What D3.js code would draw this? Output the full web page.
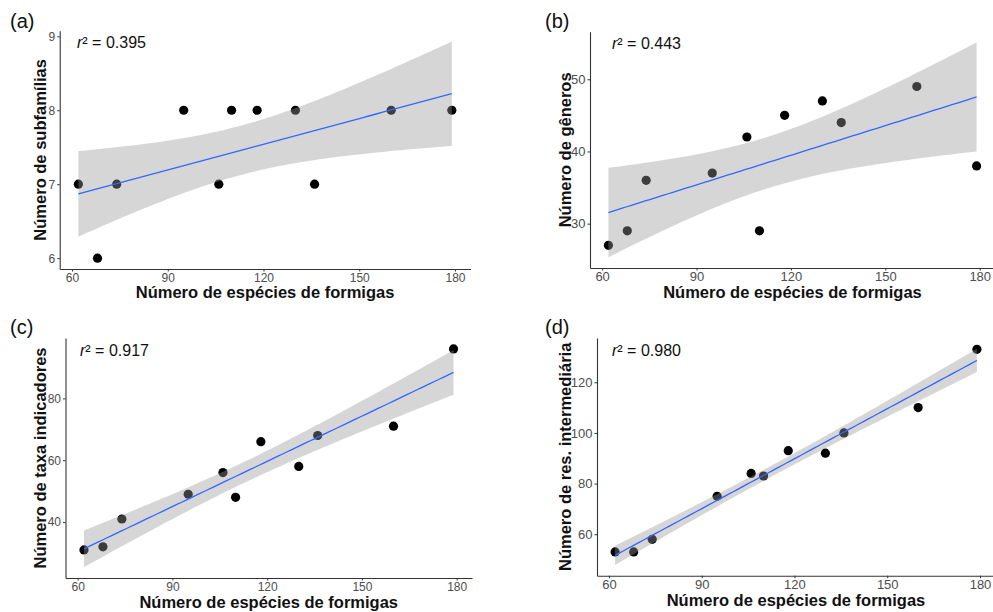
<!DOCTYPE html>
<html><head><meta charset="utf-8">
<script src="https://cdn.jsdelivr.net/npm/d3@7"></script>
<style>html,body{margin:0;padding:0;background:#fff;}svg{display:block;}</style>
</head><body>
<svg id="chart" width="993" height="612"></svg>
<script>
// ---- data ----
const antSpecies = [62, 68, 74, 95, 106, 110, 118, 130, 136, 160, 179];
const subfamilias = [7, 6, 7, 8, 7, 8, 8, 8, 7, 8, 8];
const generos = [27, 29, 36, 37, 42, 29, 45, 47, 44, 49, 38];
const taxaIndicadores = [31, 32, 41, 49, 56, 48, 66, 58, 68, 71, 96];
const resIntermediaria = [53, 53, 58, 75, 84, 83, 93, 92, 100, 110, 133];
const xTicks = [60, 90, 120, 150, 180];
const panelLabels = ["(a)", "(b)", "(c)", "(d)"];
const yTitles = ["Número de subfamílias", "Número de gêneros", "Número de taxa indicadores", "Número de res. intermediária"];
const r2Labels = ["0.395", "0.443", "0.917", "0.980"];
const yTicksList = [[6, 7, 8, 9], [30, 40, 50], [40, 60, 80], [60, 80, 100, 120]];
const xTitle = "Número de espécies de formigas";

// ---- layout ----
const panels = [
  {y: subfamilias, left: 59.7, right: 470.5, top: 30.7, bottom: 269, tickFs: 12, labX: 10, labY: 28, ytX: 46, xtB: 298, r2x: 77, r2y: 48},
  {y: generos, left: 590, right: 995, top: 31.7, bottom: 268, tickFs: 13, labX: 545, labY: 28, ytX: 571, xtB: 298, r2x: 612, r2y: 49},
  {y: taxaIndicadores, left: 65.5, right: 472, top: 338, bottom: 578, tickFs: 12, labX: 10, labY: 334, ytX: 46, xtB: 608, r2x: 80, r2y: 356},
  {y: resIntermediaria, left: 597, right: 995, top: 338, bottom: 575.7, tickFs: 13, labX: 545, labY: 334, ytX: 571, xtB: 606, r2x: 612, r2y: 356}
];

const svg = d3.select("#chart");
const font = "'Liberation Sans', Arial, sans-serif";
const crit = 1.96; // 95% band

function fit(xs, ys) {
  const n = xs.length;
  const mx = d3.mean(xs), my = d3.mean(ys);
  let sxx = 0, sxy = 0;
  xs.forEach((x, i) => { sxx += (x - mx) ** 2; sxy += (x - mx) * (ys[i] - my); });
  const b = sxy / sxx, a = my - b * mx;
  let sse = 0;
  xs.forEach((x, i) => { sse += (ys[i] - a - b * x) ** 2; });
  const s = Math.sqrt(sse / (n - 2));
  const x0 = d3.min(xs), x1 = d3.max(xs);
  return d3.range(0, 81).map(k => {
    const x = x0 + (x1 - x0) * k / 80;
    const yh = a + b * x;
    const se = s * Math.sqrt(1 / n + (x - mx) ** 2 / sxx);
    return {x, y: yh, lo: yh - crit * se, hi: yh + crit * se};
  });
}

panels.forEach((p, i) => {
  const xs = antSpecies, ys = p.y;
  const pts = fit(xs, ys);
  const xmin = d3.min(xs), xmax = d3.max(xs);
  const xr = xmax - xmin;
  const x = d3.scaleLinear().domain([xmin - 0.05 * xr, xmax + 0.05 * xr]).range([p.left, p.right]);
  const ylo = Math.min(d3.min(ys), d3.min(pts, d => d.lo));
  const yhi = Math.max(d3.max(ys), d3.max(pts, d => d.hi));
  const yr = yhi - ylo;
  const y = d3.scaleLinear().domain([ylo - 0.05 * yr, yhi + 0.05 * yr]).range([p.bottom, p.top]);

  const g = svg.append("g");
  g.selectAll("circle").data(xs).join("circle")
    .attr("cx", (d) => x(d)).attr("cy", (d, j) => y(ys[j])).attr("r", 4.6).attr("fill", "#000");
  g.append("path").datum(pts)
    .attr("d", d3.area().x(d => x(d.x)).y0(d => y(d.lo)).y1(d => y(d.hi)))
    .attr("fill", "#999").attr("fill-opacity", 0.4);
  g.append("path").datum(pts)
    .attr("d", d3.line().x(d => x(d.x)).y(d => y(d.y)))
    .attr("fill", "none").attr("stroke", "#3366FF").attr("stroke-width", 1.3);

  const xAxis = g.append("g").attr("transform", `translate(0,${p.bottom})`)
    .call(d3.axisBottom(x).tickValues(xTicks).tickFormat(d3.format("d")).tickSize(2.5).tickPadding(1.5).tickSizeOuter(0));
  const yAxis = g.append("g").attr("transform", `translate(${p.left},0)`)
    .call(d3.axisLeft(y).tickValues(yTicksList[i]).tickFormat(d3.format("d")).tickSize(2.5).tickPadding(2).tickSizeOuter(0));
  [xAxis, yAxis].forEach(ax => {
    ax.select(".domain").attr("stroke", "#333").attr("stroke-width", 1.1);
    ax.selectAll(".tick line").attr("stroke", "#333");
    ax.selectAll(".tick text").attr("fill", "#4d4d4d").style("font-family", font).style("font-size", p.tickFs + "px");
  });

  g.append("text").attr("x", (p.left + p.right) / 2).attr("y", p.xtB)
    .attr("text-anchor", "middle").style("font-family", font).style("font-weight", "bold")
    .style("font-size", "16.5px").attr("fill", "#111").text(xTitle);
  g.append("text").attr("transform", `translate(${p.ytX},${(p.top + p.bottom) / 2}) rotate(-90)`)
    .attr("text-anchor", "middle").style("font-family", font).style("font-weight", "bold")
    .style("font-size", "16.5px").attr("fill", "#111").text(yTitles[i]);
  g.append("text").attr("x", p.labX).attr("y", p.labY).style("font-family", font)
    .style("font-size", "20px").attr("fill", "#111").text(panelLabels[i]);
  const t = g.append("text").attr("x", p.r2x).attr("y", p.r2y).style("font-family", font)
    .style("font-size", "16px").attr("fill", "#111");
  t.append("tspan").style("font-style", "italic").text("r");
  t.append("tspan").text("² = " + r2Labels[i]);
});
</script>
</body></html>
